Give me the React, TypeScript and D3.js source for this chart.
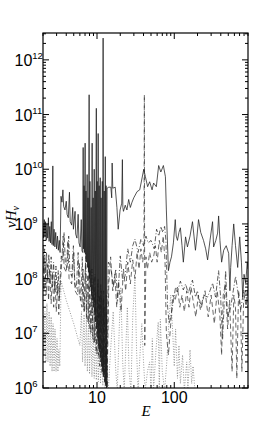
import React from "react";
import * as d3 from "d3";

// photon energies vs nu*H_nu
const solidSeries: [number, number][] = [
  [2.0, 1.0e9], [2.04, 5.5e8], [2.08, 1.2e9], [2.12, 6e8], [2.16, 1.1e9], [2.2, 5e8], [2.25, 1.0e9],
  [2.3, 5.5e8], [2.35, 1.3e9], [2.4, 4.8e8], [2.45, 9e8], [2.5, 4.5e8], [2.56, 1.1e9], [2.62, 4.2e8],
  [2.68, 1.15e10], [2.72, 4e8], [2.78, 8e8], [2.85, 3.8e8], [2.92, 7e8], [3.0, 3.5e8], [3.08, 6e8],
  [3.16, 3.3e8], [3.25, 5e8], [3.33, 3e8], [3.42, 3.2e9], [3.52, 2.5e9], [3.62, 4.2e9], [3.7, 2.1e9],
  [3.85, 1.8e9], [4.0, 2.6e9], [4.1, 1.5e9], [4.25, 1.3e9], [4.4, 3.8e9], [4.5, 1.1e9], [4.7, 9.5e8],
  [4.85, 2e9], [4.95, 8e8], [5.2, 1.7e9], [5.3, 6.5e8], [5.5, 5.5e8], [5.7, 1.5e9], [5.85, 4.5e8],
  [6.05, 3.8e8], [6.25, 1.2e9], [6.4, 3.2e8], [6.55, 3e8], [6.62, 2.5e10], [6.68, 3.5e8], [6.8, 5e9],
  [6.88, 3e8], [7.02, 3e10], [7.08, 2.8e8], [7.2, 4e9], [7.3, 2e8], [7.45, 8e9], [7.55, 1.6e8],
  [7.65, 3e9], [7.75, 1.3e8], [7.91, 2.3e11], [8.0, 1e8], [8.1, 6e9], [8.25, 7e7], [8.4, 2e9],
  [8.5, 5e7], [8.65, 3e10], [8.8, 4e7], [8.92, 3e9], [9.05, 3e7], [9.2, 1e10], [9.35, 2.2e7],
  [9.5, 4e9], [9.6, 1.6e7], [9.8, 1.3e11], [9.9, 1.2e7], [10.05, 6e9], [10.2, 8e6], [10.35, 4.5e10],
  [10.5, 6e6], [10.67, 5e9], [10.8, 4.5e6], [11.0, 7e9], [11.15, 3.5e6], [11.3, 3e9], [11.5, 2.5e6],
  [11.7, 6e9], [11.85, 2e6], [12.0, 2.5e12], [12.15, 1.6e6], [12.4, 4e9], [12.6, 1.3e6],
  [12.8, 1.7e10], [12.95, 1.1e6], [13.1, 5e9], [13.3, 1e6], [13.5, 4.5e9], [14.2, 4.7e9],
  [15.1, 4.7e9], [15.5, 3e9], [15.7, 1.3e10], [16.0, 4.5e9], [17.2, 4.7e9], [18.1, 2.0e9],
  [18.8, 8e8], [19.9, 1.8e9], [20.9, 2.4e9], [21.3, 1.5e10], [21.6, 2e9], [22.0, 1.7e9],
  [23.2, 2.2e9], [24.4, 1.8e9], [25.7, 2.8e9], [27.0, 2.0e9], [28.4, 2.5e9], [29.9, 3e9],
  [33.0, 3.9e9], [35.7, 4.2e9], [37.2, 5.6e9], [40.3, 1.0e10], [42.3, 7.3e9], [45.2, 4.8e9],
  [48.0, 5.9e9], [51.6, 4.2e9], [54.0, 5.6e9], [58.6, 4.8e9], [62.8, 1.17e10], [67.0, 8.9e9],
  [72.3, 1.17e10], [76.8, 7.3e9], [79, 1.8e9], [84, 1.4e8], [88, 2e8], [92, 2.5e8], [97.5, 4.5e8],
  [103, 1.2e9], [106, 6e8], [110, 5e8], [115, 7e8], [120, 8.5e8], [126, 4e8], [131, 2e8],
  [140, 5.8e8], [148, 3.8e8], [160, 6e8], [172, 1.1e9], [180, 6e8], [188, 3.3e8], [197, 6e8],
  [206, 1.2e9], [220, 7e8], [239, 5e8], [255, 3.5e8], [270, 2.2e8], [290, 5e8], [313, 1.1e9],
  [323, 3.8e8], [345, 5e8], [364, 6.8e8], [375, 1.4e9], [390, 5e8], [410, 2e8], [436, 3.3e8],
  [470, 4e8], [506, 2.9e8], [525, 6e7], [537, 1.6e8], [560, 4e8], [588, 1.0e9], [620, 4e8],
  [662, 1.6e8], [703, 5.8e8], [740, 2e8], [769, 4.6e7], [800, 1.2e8], [841, 8.3e7], [880, 2e8],
  [900, 1.5e8],
];

const dashDotSeries: [number, number][] = [
  [2.0, 4e8], [2.05, 1.2e8], [2.1, 3.5e8], [2.16, 1e8], [2.22, 3e8], [2.3, 9e7], [2.38, 2.8e8],
  [2.46, 8e7], [2.55, 2.5e8], [2.64, 7e7], [2.74, 2e8], [2.84, 6e7], [2.94, 1.7e8], [3.05, 5e7],
  [3.15, 1.4e8], [3.25, 4.5e7], [3.35, 1.2e8], [3.45, 2.6e8], [3.6, 2.2e8], [3.75, 7e8],
  [3.9, 1.8e8], [4.1, 1.6e8], [4.3, 6e8], [4.45, 1.4e8], [4.7, 1.1e8], [4.95, 4e8], [5.15, 8e7],
  [5.4, 6.5e7], [5.7, 3e8], [5.9, 5e7], [6.2, 4e7], [6.45, 2.5e8], [6.65, 3e7], [6.9, 2.5e7],
  [7.15, 3e8], [7.35, 2e7], [7.6, 1.6e7], [7.85, 2e8], [8.05, 1.2e7], [8.35, 1e7], [8.6, 1.5e8],
  [8.85, 8e6], [9.15, 6.5e6], [9.4, 1.2e8], [9.7, 5e6], [10.0, 4e6], [10.3, 1e8], [10.6, 3e6],
  [10.9, 2.5e6], [11.2, 8e7], [11.5, 2e6], [11.9, 1.7e6], [12.2, 6e7], [12.5, 1.4e6], [12.9, 1.2e6],
  [13.2, 5e7], [13.5, 1e6], [14, 2e8], [15, 1.7e8], [16.3, 7e7], [17.5, 1.5e8], [18.5, 4e7],
  [20, 2.6e8], [21.5, 9e7], [23, 1.1e8], [25, 3.5e8], [27, 2e8], [29, 4e8], [31, 5.3e8], [34, 3e8],
  [37, 5.3e8], [40, 4e8], [43, 6e8], [46, 4.5e8], [50, 5e8], [55, 3.5e8], [59, 8e8], [63, 6e8],
  [67, 9e8], [71, 7e8], [75, 9e8], [78, 5e8], [82, 3e7], [86, 1.5e7], [90, 2e7], [98, 4.1e7],
  [104, 7e7], [110, 5.7e7], [120, 9e7], [131, 6.2e7], [140, 8e7], [152, 5.4e7], [160, 7e7],
  [172, 9.4e7], [188, 4.6e7], [200, 6e7], [218, 2.7e7], [240, 5e7], [270, 4.6e7], [290, 6e7],
  [313, 8.3e7], [342, 4.6e7], [375, 1.4e8], [398, 4.6e7], [422, 7.6e6], [462, 1.4e8], [489, 2e7],
  [537, 3e7], [580, 6e7], [622, 1.1e8], [682, 4.6e7], [724, 2.7e7], [794, 6.2e7], [850, 3e7],
  [900, 7e7],
];

const dashedSeries: [number, number][] = [
  [2.0, 2.2e8], [2.06, 6e7], [2.12, 2e8], [2.2, 5e7], [2.28, 1.8e8], [2.36, 4e7], [2.45, 1.5e8],
  [2.55, 3.5e7], [2.65, 1.3e8], [2.75, 3e7], [2.85, 1e8], [2.97, 2.5e7], [3.1, 8e7], [3.2, 2.2e7],
  [3.3, 6e7], [3.5, 2e8], [3.64, 6e8], [3.75, 1.6e8], [4.0, 1.3e8], [4.2, 5e8], [4.35, 1e8],
  [4.7, 8e7], [5.0, 3e8], [5.2, 6e7], [5.6, 5e7], [5.9, 2e8], [6.1, 4e7], [6.4, 3e7], [6.6, 1.5e8],
  [6.8, 2.5e7], [7.1, 2e8], [7.3, 2e7], [7.6, 1.2e8], [7.8, 1.5e7], [8.1, 1.5e8], [8.3, 1.2e7],
  [8.6, 8e7], [8.8, 9e6], [9.1, 1e8], [9.3, 7e6], [9.6, 6e7], [9.9, 5e6], [10.2, 8e7], [10.5, 4e6],
  [10.8, 5e7], [11.1, 3e6], [11.4, 6e7], [11.7, 2.2e6], [12.0, 4e7], [12.3, 1.7e6], [12.6, 3e7],
  [12.9, 1.3e6], [13.2, 2e7], [13.5, 1e6], [14.2, 8e7], [15, 2.5e8], [16, 6e7], [17, 1.2e8],
  [18, 3e7], [19, 9e7], [20.5, 2.5e7], [22, 1.5e8], [23.5, 6e7], [25, 2e8], [27, 8e7], [29, 2.2e8],
  [31, 1e8], [33, 3e8], [35, 1.5e8], [37, 3.5e8], [39, 2e8], [40.5, 3e8], [41, 2.3e11], [41.5, 6e6],
  [43, 2.5e8], [45, 1.5e8], [48, 3e8], [51, 2e8], [54, 2.5e8], [57, 4e8], [60, 2e8], [64, 5e8],
  [68, 3e8], [72, 6e8], [76, 2e8], [79, 1e7], [84, 4e6], [90, 1.5e7], [96, 5e7], [103, 4e7],
  [110, 7e7], [118, 3e7], [126, 5e7], [135, 2.5e7], [145, 6e7], [155, 3e7], [165, 7e7], [175, 4e7],
  [190, 2e7], [205, 5e7], [225, 3e7], [250, 6e7], [275, 2e7], [300, 5e7], [330, 1.5e7], [360, 6e7],
  [390, 2e7], [410, 4e6], [430, 5e7], [460, 8e7], [490, 1.2e7], [520, 4e7], [560, 2e6], [590, 5e7],
  [620, 3e7], [645, 1.5e6], [680, 6e7], [720, 3e7], [750, 2e6], [790, 4e7], [840, 6e7], [900, 3e7],
];

const dottedSeries: [number, number][] = [
  [2.0, 3e7], [2.05, 4e6], [2.12, 2.5e7], [2.18, 3e6], [2.25, 3.5e7], [2.32, 3e6], [2.4, 2.5e7],
  [2.47, 2.5e6], [2.55, 2e7], [2.62, 2e6], [2.7, 1.5e7], [2.78, 2e6], [2.86, 1.2e7], [2.95, 2e6],
  [3.04, 8e6], [3.12, 2e6], [3.2, 5e6], [3.3, 2.5e6], [3.43, 9e7], [4.0, 4e7], [5.0, 1.5e7],
  [6.0, 6e6], [6.3, 2.5e7], [6.5, 3e6], [6.8, 2.2e7], [7.0, 2.5e6], [7.3, 2e7], [7.5, 2e6],
  [7.8, 1.7e7], [8.0, 1.8e6], [8.3, 1.5e7], [8.6, 1.6e6], [8.9, 1.3e7], [9.2, 1.5e6], [9.5, 1e7],
  [9.8, 1.4e6], [10.1, 8e6], [10.4, 1.3e6], [10.8, 7e6], [11.1, 1.2e6], [11.5, 6e6], [11.9, 1.1e6],
  [12.3, 5e6], [12.7, 1e6], [13.1, 4e6], [13.5, 9e5], [14, 9e5], [15, 5e6], [16.2, 2.5e7],
  [17.5, 2e6], [18.3, 9e5], [19.5, 1.5e7], [20.3, 7e7], [21.5, 3e6], [22.5, 9e5], [24, 1e7],
  [24.7, 3e7], [26, 2e6], [27.5, 9e5], [29, 2e7], [31, 1.1e8], [32.5, 5e6], [34, 9e5], [36, 4e6],
  [38, 1.5e7], [40, 3e6], [42, 9e5], [45, 2e6], [48, 3e6], [50, 9e5], [52, 8e6], [54, 9e5],
  [58, 5e6], [62, 1.6e7], [64, 9e5], [66, 1.8e7], [70, 2e6], [75, 9e5], [80, 3e6], [85, 1.5e7],
  [90, 5e7], [95, 1.2e7], [100, 2.5e6], [104, 1.2e7], [110, 1.5e6], [115, 6e6], [120, 1.2e6],
  [128, 4e6], [135, 9e5], [145, 3e6], [150, 9e5], [160, 5e6], [168, 1.2e6], [175, 2.5e6],
  [185, 9e5], [200, 8e5],
];

const xTickLabels = [10, 100];
const yTickLabels = [1e6, 1e7, 1e8, 1e9, 1e10, 1e11, 1e12];

const W = 274;
const H = 436;
const left = 43;
const right = 248;
const top = 33;
const bottom = 388;

const App = () => {
  const x = d3.scaleLog().domain([2, 900]).range([left, right]);
  const y = d3.scaleLog().domain([1e6, 3.1e12]).range([bottom, top]);

  const line = d3
    .line<[number, number]>()
    .x((d) => x(d[0]))
    .y((d) => y(d[1]));

  const isMajor = (t: number) => Math.abs(Math.log10(t) - Math.round(Math.log10(t))) < 1e-6;

  const xTicks = x.ticks().filter((t) => t >= 2 && t <= 900);
  const yTicks = y.ticks().filter((t) => t >= 1e6 && t <= 3.1e12);

  const series = [
    { data: dottedSeries, stroke: "#7a7a7a", dash: "1,1.6" },
    { data: dashedSeries, stroke: "#3a3a3a", dash: "5,3" },
    { data: dashDotSeries, stroke: "#2e2e2e", dash: "5,2,1,2" },
    { data: solidSeries, stroke: "#1c1c1c", dash: undefined },
  ];

  return (
    <svg
      width={W}
      height={H}
      style={{ position: "absolute", left: 0, top: 0, background: "#fff" }}
      fontFamily="'Liberation Sans', Arial, sans-serif"
    >
      <defs>
        <clipPath id="plotClip">
          <rect x={left} y={top} width={right - left} height={bottom - top} />
        </clipPath>
      </defs>

      <g clipPath="url(#plotClip)">
        {series.map((s, i) => (
          <path
            key={i}
            d={line(s.data) || ""}
            fill="none"
            stroke={s.stroke}
            strokeWidth={0.75}
            strokeDasharray={s.dash}
          />
        ))}
      </g>

      {/* ticks, inside on all four sides */}
      {xTicks.map((t) => {
        const len = isMajor(t) ? 6 : 3;
        return (
          <g key={"x" + t} stroke="#000" strokeWidth={1}>
            <line x1={x(t)} x2={x(t)} y1={bottom} y2={bottom - len} />
            <line x1={x(t)} x2={x(t)} y1={top} y2={top + len} />
          </g>
        );
      })}
      {yTicks.map((t) => {
        const len = isMajor(t) ? 6 : 3;
        return (
          <g key={"y" + t} stroke="#000" strokeWidth={1}>
            <line x1={left} x2={left + len} y1={y(t)} y2={y(t)} />
            <line x1={right} x2={right - len} y1={y(t)} y2={y(t)} />
          </g>
        );
      })}

      <rect
        x={left}
        y={top}
        width={right - left}
        height={bottom - top}
        fill="none"
        stroke="#000"
        strokeWidth={1.2}
      />

      {xTickLabels.map((t) => (
        <text key={"xl" + t} x={x(t)} y={403} textAnchor="middle" fontSize={16} fill="#000">
          {t}
        </text>
      ))}
      {yTickLabels.map((t) => (
        <text key={"yl" + t} x={14.5} y={y(t) + 6} fontSize={16} fill="#000">
          10
          <tspan dy={-7} fontSize={9.5}>
            {Math.round(Math.log10(t))}
          </tspan>
        </text>
      ))}

      <text
        x={146}
        y={416}
        textAnchor="middle"
        fontSize={15}
        fontStyle="italic"
        fontFamily="'Liberation Serif', 'DejaVu Serif', serif"
      >
        E
      </text>
      <text
        transform="translate(16,217) rotate(-90)"
        textAnchor="middle"
        fontSize={15}
        fontStyle="italic"
        fontFamily="'Liberation Serif', 'DejaVu Serif', serif"
      >
        νH
        <tspan dy={3} fontSize={10}>
          ν
        </tspan>
      </text>
    </svg>
  );
};

export default App;
